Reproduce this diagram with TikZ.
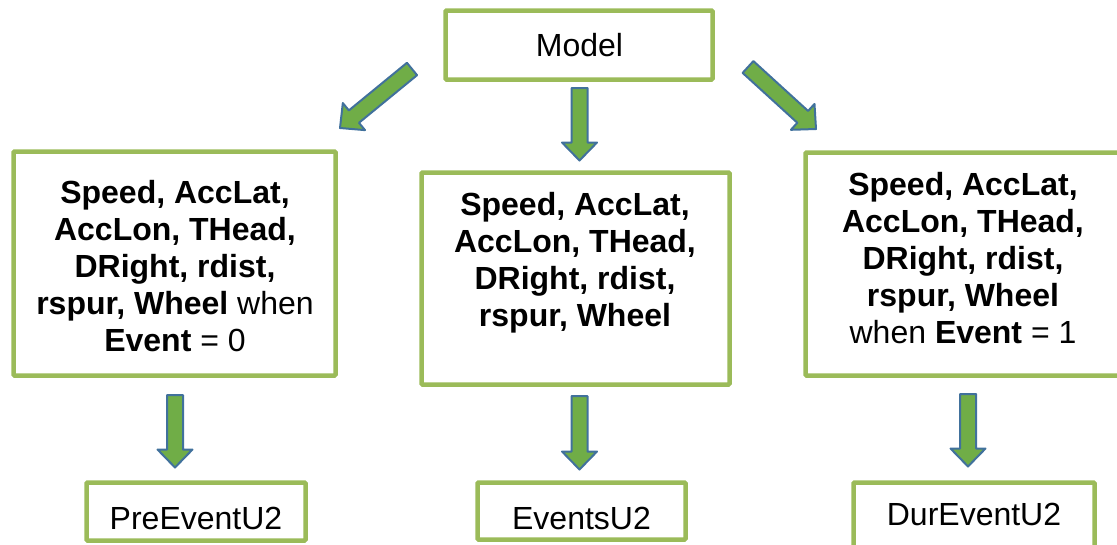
\documentclass[tikz,border=0pt]{standalone}
\usepackage{fontspec}
\setmainfont{Liberation Sans}
\usetikzlibrary{calc}
\definecolor{boxgreen}{HTML}{9BBB59}
\definecolor{arrowfill}{HTML}{70AD47}
\definecolor{arrowline}{HTML}{41719C}

\tikzset{
  box/.style={draw=boxgreen, line width=4.5pt, fill=white, rounded corners=1pt,
    inner sep=0pt, anchor=center},
  boxtext/.style={inner sep=0pt, anchor=north, align=center,
    font=\fontsize{32}{37}\selectfont},
  blockarrow/.style={draw=arrowline, fill=arrowfill, line width=2pt, line join=round},
}

% block arrow from tail coordinate #1 to tip coordinate #2
\newcommand\fatarrow[2]{%
  \coordinate (neck) at ($(#2)!18pt!(#1)$);
  \draw[blockarrow]
    ($(#1)!8pt!90:(#2)$) -- ($(neck)!8pt!90:(#2)$) -- ($(neck)!17.5pt!90:(#2)$)
    -- (#2)
    -- ($(neck)!17.5pt!-90:(#2)$) -- ($(neck)!8pt!-90:(#2)$) -- ($(#1)!8pt!-90:(#2)$)
    -- cycle;}

\begin{document}
\begin{tikzpicture}[x=1pt, y=-1pt]
\useasboundingbox (0,0) rectangle (1117,544);
\clip (0,0) rectangle (1117,544);

% boxes
\node[box, minimum width=267pt, minimum height=69pt] (model) at (579,45) {};
\node[box, minimum width=322pt, minimum height=224pt] (pre) at (174.5,263.5) {};
\node[box, minimum width=308pt, minimum height=212pt] (ev) at (575.5,278.5) {};
\node[box, minimum width=315pt, minimum height=223pt] (dur) at (963,264) {};
\node[box, minimum width=219pt, minimum height=58pt] (preout) at (196,511.5) {};
\node[box, minimum width=208pt, minimum height=57pt] (evout) at (581.5,511) {};
\node[box, minimum width=241pt, minimum height=67pt] (durout) at (974,516) {};

% texts
\node[boxtext] (modeltxt) at (579.5,33) {Model};
\node[boxtext] (pretxt) at (175,180) {\textbf{Speed, AccLat,}\\ \textbf{AccLon, THead,}\\
  \textbf{DRight, rdist,}\\ \textbf{rspur, Wheel} when\\ \textbf{Event} = 0};
\node[boxtext] (evtxt) at (575,192) {\textbf{Speed, AccLat,}\\ \textbf{AccLon, THead,}\\
  \textbf{DRight, rdist,}\\ \textbf{rspur, Wheel}};
\node[boxtext] (durtxt) at (963,172) {\textbf{Speed, AccLat,}\\ \textbf{AccLon, THead,}\\
  \textbf{DRight, rdist,}\\ \textbf{rspur, Wheel}\\ when \textbf{Event} = 1};
\node[boxtext] (preouttxt) at (196,507) {PreEventU2};
\node[boxtext] (evouttxt) at (581.5,507) {EventsU2};
\node[boxtext] (durouttxt) at (974,503) {DurEventU2};

% arrow ends
\coordinate (a1s) at (412,69);
\coordinate (a1e) at (340,128);
\coordinate (a2s) at (579.5,88);
\coordinate (a2e) at (579.5,160.5);
\coordinate (a3s) at (748,67);
\coordinate (a3e) at (816,129);
\coordinate (b1s) at (175,395);
\coordinate (b1e) at (175,467.5);
\coordinate (b2s) at (579.5,396);
\coordinate (b2e) at (579.5,469.5);
\coordinate (b3s) at (968,394);
\coordinate (b3e) at (968,466.5);

\fatarrow{a1s}{a1e}
\fatarrow{a2s}{a2e}
\fatarrow{a3s}{a3e}
\fatarrow{b1s}{b1e}
\fatarrow{b2s}{b2e}
\fatarrow{b3s}{b3e}
\end{tikzpicture}
\end{document}
